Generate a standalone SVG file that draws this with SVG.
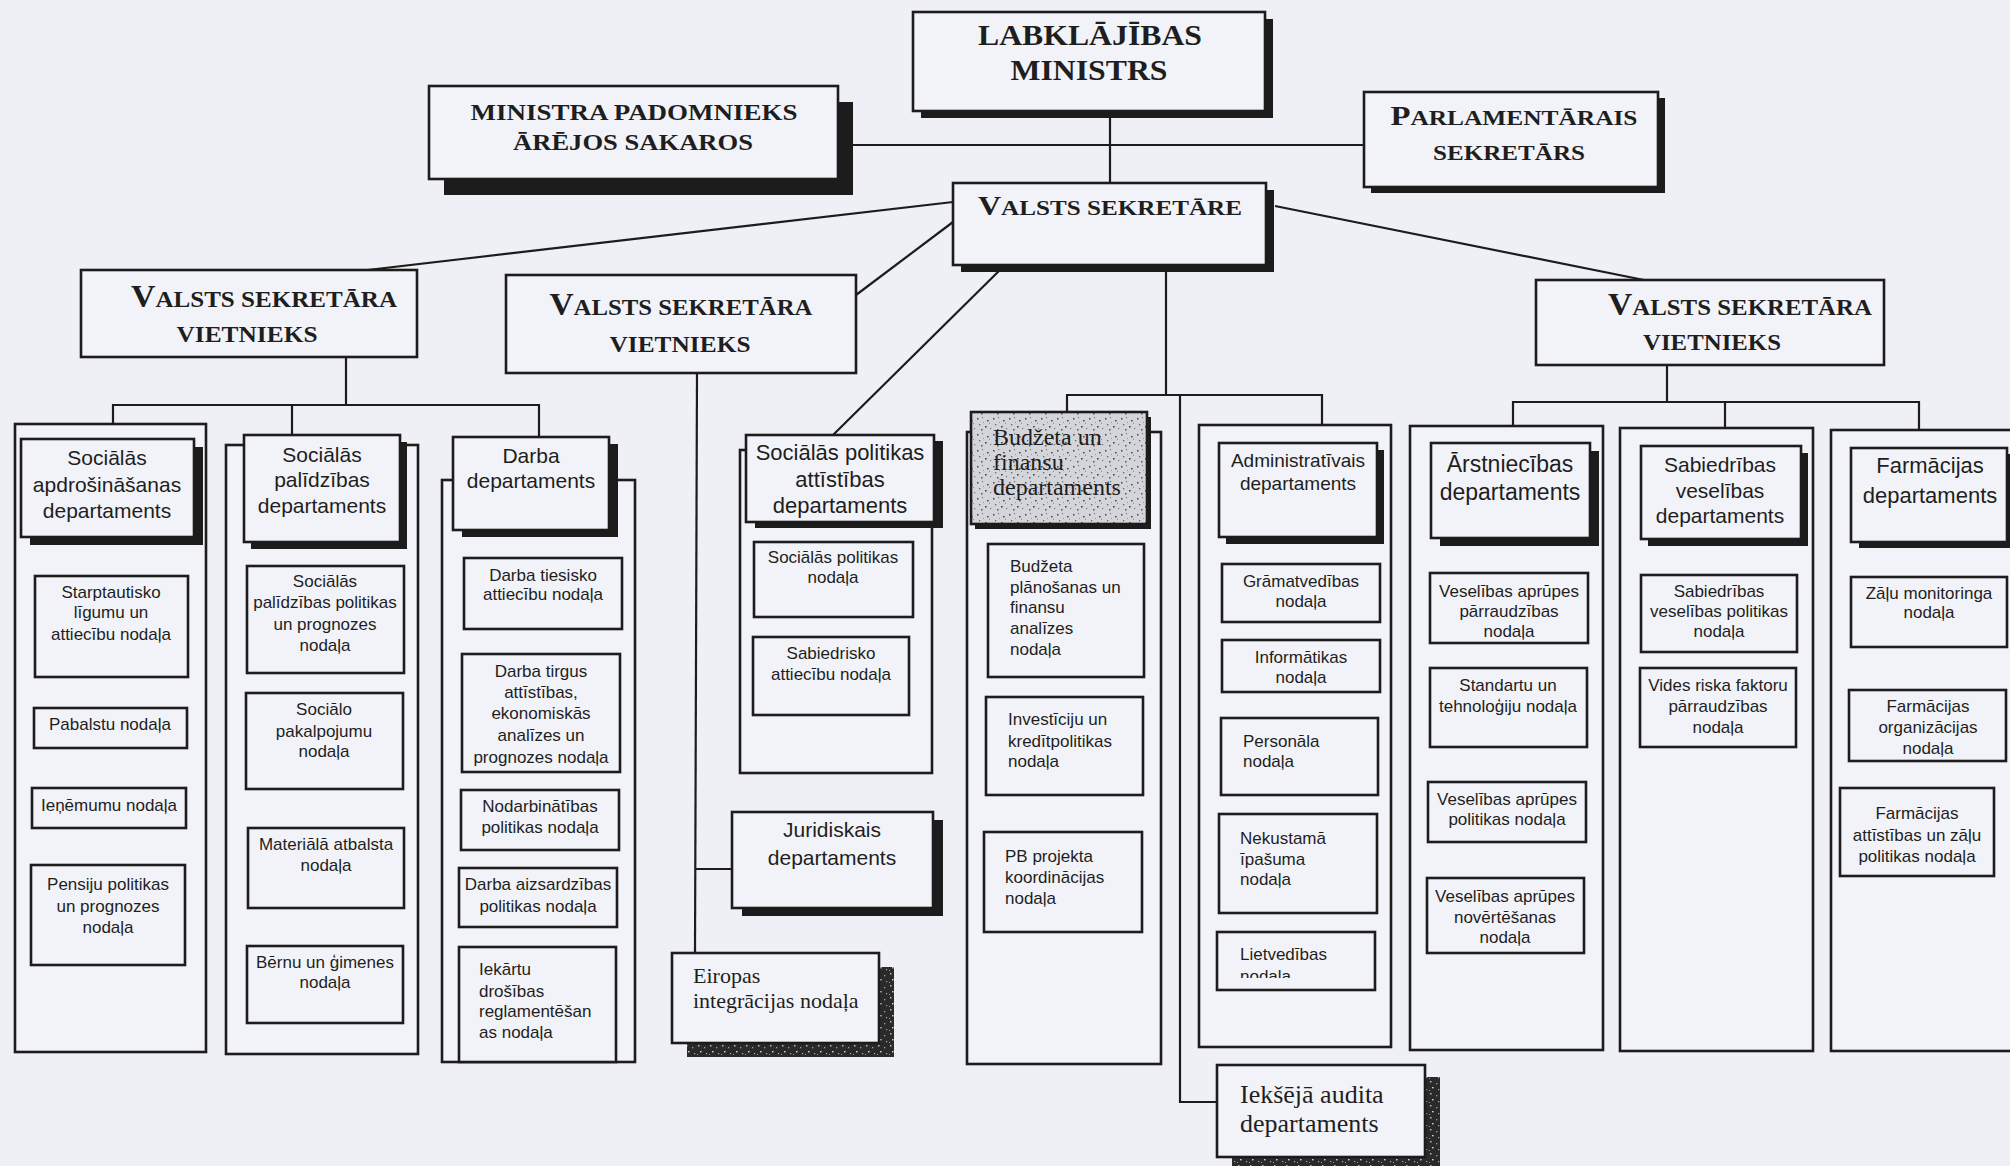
<svg xmlns="http://www.w3.org/2000/svg" width="2010" height="1166" viewBox="0 0 2010 1166">
<defs>
<style>
.bg{fill:#eff0f6}
.bx{fill:#f2f3f8;stroke:#1c1c1c;stroke-width:2.6}
.sh{fill:#1c1c1c}
.cn{stroke:#1c1c1c;stroke-width:2.2;fill:none}
.t{font-family:"Liberation Sans",Arial,sans-serif;fill:#1e1e1e}
.sf{font-family:"Liberation Serif","Times New Roman",serif;fill:#1e1e1e}
.tt{font-family:"Liberation Serif","Times New Roman",serif;font-weight:bold;fill:#1e1e1e}
.c{text-anchor:middle}
.s17{font-size:17px}
.s19{font-size:19px}
.s21{font-size:21px}
.s22{font-size:22px}
.s23{font-size:23px}
</style>
<pattern id="gspk" width="16" height="16" patternUnits="userSpaceOnUse">
<rect width="16" height="16" fill="#d4d5db"/>
<rect x="1" y="2" width="1.6" height="1.6" fill="#555"/>
<rect x="6" y="1" width="1.2" height="1.2" fill="#777"/>
<rect x="11" y="4" width="1.6" height="1.4" fill="#444"/>
<rect x="3" y="8" width="1.3" height="1.3" fill="#666"/>
<rect x="9" y="10" width="1.7" height="1.5" fill="#4a4a4a"/>
<rect x="14" y="12" width="1.2" height="1.2" fill="#777"/>
<rect x="5" y="13" width="1.5" height="1.5" fill="#555"/>
<rect x="13" y="7" width="1" height="1" fill="#888"/>
<rect x="7" y="6" width="1" height="1" fill="#999"/>
</pattern>
<pattern id="dspk" width="12" height="12" patternUnits="userSpaceOnUse">
<rect width="12" height="12" fill="#2a2a2a"/>
<rect x="2" y="1" width="1.5" height="1.5" fill="#bbb"/>
<rect x="8" y="3" width="1.3" height="1.3" fill="#999"/>
<rect x="4" y="7" width="1.6" height="1.4" fill="#ccc"/>
<rect x="10" y="9" width="1.2" height="1.2" fill="#aaa"/>
<rect x="1" y="10" width="1" height="1" fill="#999"/>
</pattern>
<clipPath id="clipLiet"><rect x="1217" y="932" width="158" height="46"/></clipPath>
</defs>
<rect class="bg" x="0" y="0" width="2010" height="1166"/>

<g id="connectors">
<line class="cn" x1="1110" y1="111" x2="1110" y2="183"/>
<line class="cn" x1="838" y1="145" x2="1364" y2="145"/>
<line class="cn" x1="953" y1="202" x2="359" y2="271"/>
<line class="cn" x1="953" y1="222" x2="856" y2="295"/>
<line class="cn" x1="1005" y1="265" x2="833" y2="435"/>
<line class="cn" x1="1275" y1="206" x2="1649" y2="281"/>
<line class="cn" x1="1166" y1="272" x2="1166" y2="395"/>
<polyline class="cn" points="1067,413 1067,395 1322,395 1322,440"/>
<polyline class="cn" points="1180,395 1180,1102 1217,1102"/>
<line class="cn" x1="346" y1="357" x2="346" y2="405"/>
<polyline class="cn" points="113,424 113,405 539,405 539,437"/>
<line class="cn" x1="292" y1="405" x2="292" y2="435"/>
<line class="cn" x1="697" y1="373" x2="695" y2="953"/>
<line class="cn" x1="696" y1="869" x2="732" y2="869"/>
<line class="cn" x1="1667" y1="365" x2="1667" y2="402"/>
<polyline class="cn" points="1513,426 1513,402 1919,402 1919,430"/>
<line class="cn" x1="1725" y1="402" x2="1725" y2="428"/>
</g>

<g id="n-ministrs">
<rect class="sh" x="921" y="19" width="352" height="99"/>
<rect class="bx" x="913" y="12" width="352" height="99"/>
<text class="tt c" x="1090" y="45" font-size="29" textLength="224" lengthAdjust="spacingAndGlyphs">LABKLĀJĪBAS</text>
<text class="tt c" x="1089" y="80" font-size="29" textLength="157" lengthAdjust="spacingAndGlyphs">MINISTRS</text>
</g>

<g id="n-padomnieks">
<rect class="sh" x="444" y="102" width="409" height="93"/>
<rect class="bx" x="429" y="86" width="409" height="93"/>
<text class="tt c s23" x="634" y="120" textLength="327" lengthAdjust="spacingAndGlyphs">MINISTRA PADOMNIEKS</text>
<text class="tt c s23" x="633" y="150" textLength="240" lengthAdjust="spacingAndGlyphs">ĀRĒJOS SAKAROS</text>
</g>

<g id="n-parlamentarais">
<rect class="sh" x="1371" y="98" width="294" height="95"/>
<rect class="bx" x="1364" y="92" width="294" height="95"/>
<text class="tt c" x="1514" y="125" textLength="247" lengthAdjust="spacingAndGlyphs"><tspan font-size="27">P</tspan><tspan font-size="21">ARLAMENTĀRAIS</tspan></text>
<text class="tt c s21" x="1509" y="160" textLength="152" lengthAdjust="spacingAndGlyphs">SEKRETĀRS</text>
</g>

<g id="n-valsts-sekretare">
<rect class="sh" x="961" y="190" width="313" height="82"/>
<rect class="bx" x="953" y="183" width="313" height="82"/>
<text class="tt c" x="1110" y="215" textLength="264" lengthAdjust="spacingAndGlyphs"><tspan font-size="28">V</tspan><tspan font-size="22">ALSTS SEKRETĀRE</tspan></text>
</g>

<g id="n-vietnieks-1">
<rect class="bx" x="81" y="270" width="336" height="87"/>
<text class="tt c" x="264" y="307" textLength="266" lengthAdjust="spacingAndGlyphs"><tspan font-size="31">V</tspan><tspan font-size="23">ALSTS SEKRETĀRA</tspan></text>
<text class="tt c" x="247" y="342" font-size="24" textLength="141" lengthAdjust="spacingAndGlyphs">VIETNIEKS</text>
</g>

<g id="n-vietnieks-2">
<rect class="bx" x="506" y="275" width="350" height="98"/>
<text class="tt c" x="681" y="315" textLength="263" lengthAdjust="spacingAndGlyphs"><tspan font-size="31">V</tspan><tspan font-size="23">ALSTS SEKRETĀRA</tspan></text>
<text class="tt c" x="680" y="352" font-size="24" textLength="141" lengthAdjust="spacingAndGlyphs">VIETNIEKS</text>
</g>

<g id="n-vietnieks-3">
<rect class="bx" x="1536" y="280" width="348" height="85"/>
<text class="tt c" x="1740" y="315" textLength="264" lengthAdjust="spacingAndGlyphs"><tspan font-size="31">V</tspan><tspan font-size="23">ALSTS SEKRETĀRA</tspan></text>
<text class="tt c" x="1712" y="350" font-size="24" textLength="138" lengthAdjust="spacingAndGlyphs">VIETNIEKS</text>
</g>

<g id="n-soc-apdrosinasanas">
<rect class="bx" x="15" y="424" width="191" height="628"/>
<rect class="sh" x="30" y="447" width="173" height="98"/>
<rect class="bx" x="21" y="439" width="173" height="98"/>
<text class="t c s21" x="107" y="465">Sociālās</text>
<text class="t c s21" x="107" y="492">apdrošināšanas</text>
<text class="t c s21" x="107" y="518">departaments</text>
<rect class="bx" x="35" y="576" width="153" height="101"/>
<text class="t c s17" x="111" y="598">Starptautisko</text>
<text class="t c s17" x="111" y="618">līgumu un</text>
<text class="t c s17" x="111" y="640">attiecību nodaļa</text>
<rect class="bx" x="34" y="708" width="153" height="40"/>
<text class="t c s17" x="110" y="730">Pabalstu nodaļa</text>
<rect class="bx" x="32" y="788" width="154" height="40"/>
<text class="t c s17" x="109" y="811">Ieņēmumu nodaļa</text>
<rect class="bx" x="31" y="865" width="154" height="100"/>
<text class="t c s17" x="108" y="890">Pensiju politikas</text>
<text class="t c s17" x="108" y="912">un prognozes</text>
<text class="t c s17" x="108" y="933">nodaļa</text>
</g>

<g id="n-soc-palidzibas">
<rect class="bx" x="226" y="445" width="192" height="609"/>
<rect class="sh" x="251" y="442" width="156" height="107"/>
<rect class="bx" x="244" y="435" width="156" height="107"/>
<text class="t c s21" x="322" y="462">Sociālās</text>
<text class="t c s21" x="322" y="487">palīdzības</text>
<text class="t c s21" x="322" y="513">departaments</text>
<rect class="bx" x="247" y="566" width="157" height="107"/>
<text class="t c s17" x="325" y="587">Sociālās</text>
<text class="t c s17" x="325" y="608">palīdzības politikas</text>
<text class="t c s17" x="325" y="630">un prognozes</text>
<text class="t c s17" x="325" y="651">nodaļa</text>
<rect class="bx" x="246" y="693" width="157" height="96"/>
<text class="t c s17" x="324" y="715">Sociālo</text>
<text class="t c s17" x="324" y="737">pakalpojumu</text>
<text class="t c s17" x="324" y="757">nodaļa</text>
<rect class="bx" x="248" y="828" width="156" height="80"/>
<text class="t c s17" x="326" y="850">Materiālā atbalsta</text>
<text class="t c s17" x="326" y="871">nodaļa</text>
<rect class="bx" x="247" y="946" width="156" height="77"/>
<text class="t c s17" x="325" y="968">Bērnu un ģimenes</text>
<text class="t c s17" x="325" y="988">nodaļa</text>
</g>

<g id="n-darba">
<rect class="bx" x="442" y="480" width="193" height="582"/>
<rect class="sh" x="462" y="444" width="156" height="93"/>
<rect class="bx" x="453" y="437" width="156" height="93"/>
<text class="t c s21" x="531" y="463">Darba</text>
<text class="t c s21" x="531" y="488">departaments</text>
<rect class="bx" x="464" y="558" width="158" height="71"/>
<text class="t c s17" x="543" y="581">Darba tiesisko</text>
<text class="t c s17" x="543" y="600">attiecību nodaļa</text>
<rect class="bx" x="462" y="654" width="158" height="118"/>
<text class="t c s17" x="541" y="677">Darba tirgus</text>
<text class="t c s17" x="541" y="698">attīstības,</text>
<text class="t c s17" x="541" y="719">ekonomiskās</text>
<text class="t c s17" x="541" y="741">analīzes un</text>
<text class="t c s17" x="541" y="763">prognozes nodaļa</text>
<rect class="bx" x="461" y="790" width="158" height="60"/>
<text class="t c s17" x="540" y="812">Nodarbinātības</text>
<text class="t c s17" x="540" y="833">politikas nodaļa</text>
<rect class="bx" x="459" y="868" width="158" height="59"/>
<text class="t c s17" x="538" y="890">Darba aizsardzības</text>
<text class="t c s17" x="538" y="912">politikas nodaļa</text>
<rect class="bx" x="459" y="947" width="157" height="115"/>
<text class="t s17" x="479" y="975">Iekārtu</text>
<text class="t s17" x="479" y="997">drošības</text>
<text class="t s17" x="479" y="1017">reglamentēšan</text>
<text class="t s17" x="479" y="1038">as nodaļa</text>
</g>

<g id="n-juridiskais">
<rect class="sh" x="742" y="820" width="201" height="96"/>
<rect class="bx" x="732" y="812" width="201" height="96"/>
<text class="t c s21" x="832" y="837">Juridiskais</text>
<text class="t c s21" x="832" y="865">departaments</text>
</g>

<g id="n-eiropas">
<rect x="687" y="967" width="207" height="90" fill="url(#dspk)"/>
<rect class="bx" x="672" y="953" width="207" height="90"/>
<text class="sf" x="693" y="983" font-size="22">Eiropas</text>
<text class="sf" x="693" y="1008" font-size="22">integrācijas nodaļa</text>
</g>

<g id="n-soc-politikas-attistibas">
<rect class="bx" x="740" y="450" width="192" height="323"/>
<rect class="sh" x="755" y="441" width="188" height="87"/>
<rect class="bx" x="746" y="435" width="188" height="87"/>
<text class="t c s22" x="840" y="460">Sociālās politikas</text>
<text class="t c s22" x="840" y="487">attīstības</text>
<text class="t c s22" x="840" y="513">departaments</text>
<rect class="bx" x="754" y="542" width="159" height="75"/>
<text class="t c s17" x="833" y="563">Sociālās politikas</text>
<text class="t c s17" x="833" y="583">nodaļa</text>
<rect class="bx" x="753" y="637" width="156" height="78"/>
<text class="t c s17" x="831" y="659">Sabiedrisko</text>
<text class="t c s17" x="831" y="680">attiecību nodaļa</text>
</g>

<g id="n-budzeta">
<rect class="bx" x="967" y="432" width="194" height="632"/>
<rect class="sh" x="975" y="417" width="176" height="112"/>
<rect x="971" y="412" width="176" height="112" fill="url(#gspk)" stroke="#1c1c1c" stroke-width="2.6"/>
<text class="sf" x="993" y="445" font-size="24">Budžeta un</text>
<text class="sf" x="993" y="470" font-size="24">finansu</text>
<text class="sf" x="993" y="495" font-size="24">departaments</text>
<rect class="bx" x="988" y="544" width="156" height="133"/>
<text class="t s17" x="1010" y="572">Budžeta</text>
<text class="t s17" x="1010" y="593">plānošanas un</text>
<text class="t s17" x="1010" y="613">finansu</text>
<text class="t s17" x="1010" y="634">analīzes</text>
<text class="t s17" x="1010" y="655">nodaļa</text>
<rect class="bx" x="986" y="697" width="157" height="98"/>
<text class="t s17" x="1008" y="725">Investīciju un</text>
<text class="t s17" x="1008" y="747">kredītpolitikas</text>
<text class="t s17" x="1008" y="767">nodaļa</text>
<rect class="bx" x="984" y="832" width="158" height="100"/>
<text class="t s17" x="1005" y="862">PB projekta</text>
<text class="t s17" x="1005" y="883">koordinācijas</text>
<text class="t s17" x="1005" y="904">nodaļa</text>
</g>

<g id="n-administrativais">
<rect class="bx" x="1199" y="425" width="192" height="622"/>
<rect class="sh" x="1226" y="450" width="158" height="94"/>
<rect class="bx" x="1219" y="443" width="158" height="94"/>
<text class="t c s19" x="1298" y="467">Administratīvais</text>
<text class="t c s19" x="1298" y="490">departaments</text>
<rect class="bx" x="1222" y="564" width="158" height="58"/>
<text class="t c s17" x="1301" y="587">Grāmatvedības</text>
<text class="t c s17" x="1301" y="607">nodaļa</text>
<rect class="bx" x="1222" y="640" width="158" height="52"/>
<text class="t c s17" x="1301" y="663">Informātikas</text>
<text class="t c s17" x="1301" y="683">nodaļa</text>
<rect class="bx" x="1221" y="718" width="157" height="77"/>
<text class="t s17" x="1243" y="747">Personāla</text>
<text class="t s17" x="1243" y="767">nodaļa</text>
<rect class="bx" x="1219" y="814" width="158" height="99"/>
<text class="t s17" x="1240" y="844">Nekustamā</text>
<text class="t s17" x="1240" y="865">īpašuma</text>
<text class="t s17" x="1240" y="885">nodaļa</text>
<rect class="bx" x="1217" y="932" width="158" height="58"/>
<text class="t s17" x="1240" y="960">Lietvedības</text>
<text class="t s17" x="1240" y="982" clip-path="url(#clipLiet)">nodaļa</text>
</g>

<g id="n-ieksejais-audits">
<rect x="1232" y="1077" width="208" height="92" fill="url(#dspk)"/>
<rect class="bx" x="1217" y="1065" width="208" height="92"/>
<text class="sf" x="1240" y="1103" font-size="26">Iekšējā audita</text>
<text class="sf" x="1240" y="1132" font-size="26">departaments</text>
</g>

<g id="n-arstniecibas">
<rect class="bx" x="1410" y="426" width="193" height="624"/>
<rect class="sh" x="1440" y="451" width="159" height="95"/>
<rect class="bx" x="1431" y="443" width="159" height="95"/>
<text class="t c s23" x="1510" y="472">Ārstniecības</text>
<text class="t c s23" x="1510" y="500">departaments</text>
<rect class="bx" x="1430" y="573" width="158" height="70"/>
<text class="t c s17" x="1509" y="597">Veselības aprūpes</text>
<text class="t c s17" x="1509" y="617">pārraudzības</text>
<text class="t c s17" x="1509" y="637">nodaļa</text>
<rect class="bx" x="1430" y="668" width="157" height="79"/>
<text class="t c s17" x="1508" y="691">Standartu un</text>
<text class="t c s17" x="1508" y="712">tehnoloģiju nodaļa</text>
<rect class="bx" x="1428" y="782" width="158" height="60"/>
<text class="t c s17" x="1507" y="805">Veselības aprūpes</text>
<text class="t c s17" x="1507" y="825">politikas nodaļa</text>
<rect class="bx" x="1427" y="878" width="157" height="75"/>
<text class="t c s17" x="1505" y="902">Veselības aprūpes</text>
<text class="t c s17" x="1505" y="923">novērtēšanas</text>
<text class="t c s17" x="1505" y="943">nodaļa</text>
</g>

<g id="n-sabiedribas-veselibas">
<rect class="bx" x="1620" y="428" width="193" height="623"/>
<rect class="sh" x="1648" y="453" width="160" height="93"/>
<rect class="bx" x="1641" y="446" width="160" height="93"/>
<text class="t c s21" x="1720" y="472">Sabiedrības</text>
<text class="t c s21" x="1720" y="498">veselības</text>
<text class="t c s21" x="1720" y="523">departaments</text>
<rect class="bx" x="1641" y="575" width="156" height="77"/>
<text class="t c s17" x="1719" y="597">Sabiedrības</text>
<text class="t c s17" x="1719" y="617">veselības politikas</text>
<text class="t c s17" x="1719" y="637">nodaļa</text>
<rect class="bx" x="1640" y="668" width="156" height="79"/>
<text class="t c s17" x="1718" y="691">Vides riska faktoru</text>
<text class="t c s17" x="1718" y="712">pārraudzības</text>
<text class="t c s17" x="1718" y="733">nodaļa</text>
</g>

<g id="n-farmacijas">
<rect class="bx" x="1831" y="430" width="200" height="621"/>
<rect class="sh" x="1859" y="454" width="156" height="94"/>
<rect class="bx" x="1851" y="448" width="156" height="94"/>
<text class="t c s22" x="1930" y="473">Farmācijas</text>
<text class="t c s22" x="1930" y="503">departaments</text>
<rect class="bx" x="1851" y="577" width="156" height="70"/>
<text class="t c s17" x="1929" y="599">Zāļu monitoringa</text>
<text class="t c s17" x="1929" y="618">nodaļa</text>
<rect class="bx" x="1849" y="690" width="157" height="71"/>
<text class="t c s17" x="1928" y="712">Farmācijas</text>
<text class="t c s17" x="1928" y="733">organizācijas</text>
<text class="t c s17" x="1928" y="754">nodaļa</text>
<rect class="bx" x="1840" y="788" width="154" height="88"/>
<text class="t c s17" x="1917" y="819">Farmācijas</text>
<text class="t c s17" x="1917" y="841">attīstības un zāļu</text>
<text class="t c s17" x="1917" y="862">politikas nodaļa</text>
</g>
</svg>
